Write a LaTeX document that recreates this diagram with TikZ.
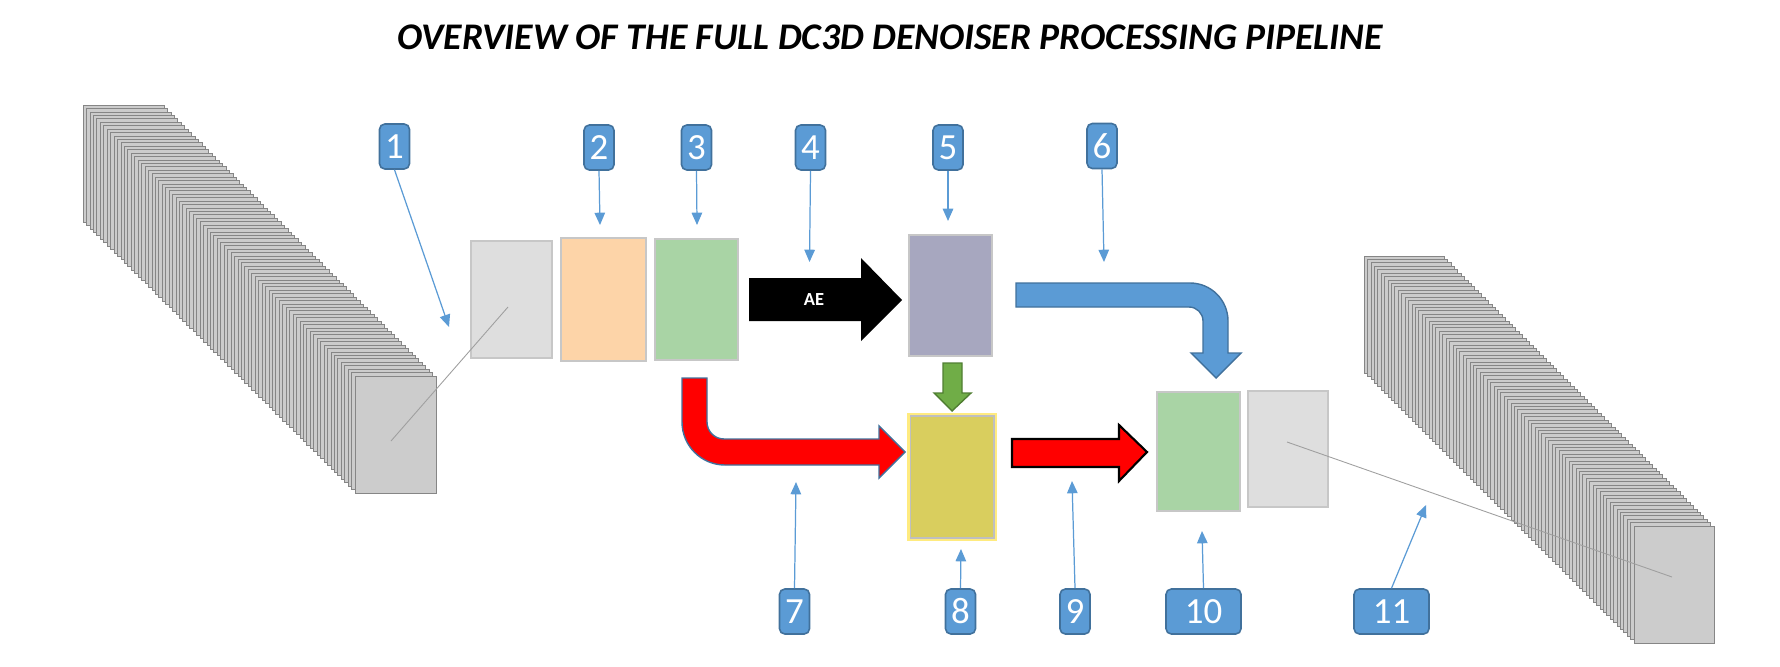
\documentclass[tikz,border=0pt]{standalone}
\usepackage{fontspec}
\setmainfont{Carlito}
\usetikzlibrary{arrows.meta,positioning}
\definecolor{tagblue}{HTML}{5B9BD5}
\definecolor{tagrim}{HTML}{41719C}
\definecolor{boxgray}{HTML}{DEDEDE}
\definecolor{boxorange}{HTML}{FDD4A8}
\definecolor{boxgreen}{HTML}{A9D4A5}
\definecolor{boxpurple}{HTML}{A7A7BF}
\definecolor{boxyellow}{HTML}{D9CE5E}
\definecolor{yellowrim}{HTML}{FFEB7F}
\definecolor{leafgreen}{HTML}{70AD47}
\definecolor{leafrim}{HTML}{507E32}

\tikzset{
  tag/.style={draw=tagrim, fill=tagblue, line width=0.9pt, rounded corners=3pt,
    text=white, font=\fontsize{21}{21}\selectfont,
    minimum width=0.6cm, minimum height=0.9cm, inner sep=0pt},
  widetag/.style={tag, minimum width=1.5cm},
  pointer/.style={draw=tagblue, line width=0.7pt, -{Triangle[width=6pt,length=7pt]}},
  panel/.style={draw=black!22, line width=0.8pt, inner sep=0pt},
  slice/.style={draw=gray!95, fill=gray!40, line width=0.4pt},
  guide/.style={draw=gray!75, line width=0.5pt},
}

\begin{document}
\begin{tikzpicture}[x=0.02cm, y=-0.02cm]
  \useasboundingbox (0,0) rectangle (1780,666);

  % заголовок
  \node[font=\fontsize{21.4}{26}\selectfont\bfseries\itshape] (title) at (890,37)
    {OVERVIEW OF THE FULL DC3D DENOISER PROCESSING PIPELINE};

  % левая стопка кадров
  \foreach \i in {0,...,79}
    \draw[slice] ({83+\i*3.443},{105+\i*3.430}) rectangle +(81,117);
  \coordinate (stackL) at (391,441);

  % правая стопка кадров
  \foreach \i in {0,...,79}
    \draw[slice] ({1364+\i*3.418},{256+\i*3.418}) rectangle +(80,117);
  \coordinate (stackR) at (1672,577);

  % блоки
  \node[panel, fill=boxgray, minimum width=1.62cm, minimum height=2.34cm] (inframe) at (511.5,299.5) {};
  \node[panel, fill=boxorange, minimum width=1.7cm, minimum height=2.46cm] (norm) at (603.5,299.5) {};
  \node[panel, fill=boxgreen, minimum width=1.66cm, minimum height=2.42cm] (prep) at (696.5,299.5) {};
  \node[panel, fill=boxpurple, minimum width=1.66cm, minimum height=2.42cm] (latent) at (950.5,295.5) {};
  \node[draw=yellowrim, fill=boxyellow, line width=1.7pt, inner sep=0pt,
    minimum width=1.74cm, minimum height=2.5cm] (merge) at (952,477) {};
  \draw[black!25, line width=0.6pt] ([shift={(3,3)}]merge.north west) rectangle ([shift={(-3,-3)}]merge.south east);
  \node[panel, fill=boxgreen, minimum width=1.66cm, minimum height=2.38cm] (post) at (1198.5,451.5) {};
  \node[panel, fill=boxgray, minimum width=1.6cm, minimum height=2.32cm] (outframe) at (1288,449) {};

  % стрелка AE
  \fill[black] (749,278) -- (861,278) -- (861,258) -- (902,300) -- (861,341)
    -- (861,321) -- (749,321) -- cycle;
  \node[text=white, font=\bfseries\fontsize{10.5}{12}\selectfont] (ae) at (814,300) {AE};

  % красная изогнутая стрелка
  \draw[fill=red, draw=tagrim, line width=0.8pt] (682,378) -- (707,378) -- (707,422)
    arc[start angle=180, end angle=90, radius=17] -- (879,439) -- (879,426)
    -- (905,452) -- (879,478) -- (879,465) -- (725,465)
    arc[start angle=90, end angle=180, radius=43] -- cycle;

  % синяя изогнутая стрелка
  \draw[fill=tagblue, draw=tagrim, line width=0.8pt] (1016,283) -- (1190,283)
    arc[start angle=270, end angle=360, radius=38] -- (1228,353) -- (1241,353)
    -- (1216,378) -- (1191,353) -- (1203,353) -- (1203,321)
    arc[start angle=0, end angle=-90, radius=14] -- (1016,307) -- cycle;

  % зелёная стрелка вниз
  \draw[fill=leafgreen, draw=leafrim, line width=0.8pt] (943,363) -- (962,363) -- (962,393)
    -- (971,393) -- (952,411) -- (934,393) -- (943,393) -- cycle;

  % красная прямая стрелка
  \draw[fill=red, draw=black, line width=1.2pt] (1012,439) -- (1119,439) -- (1119,425)
    -- (1147,452) -- (1119,481) -- (1119,467) -- (1012,467) -- cycle;

  % линии к стопкам
  \coordinate (inmid) at (508,307);
  \coordinate (outmid) at (1287,442);
  \draw[guide] (stackL) -- (inmid);
  \draw[guide] (outmid) -- (stackR);

  % номера
  \node[tag] (t1) at (394.5,146.5) {1};
  \node[tag] (t2) at (599,147.5) {2};
  \node[tag] (t3) at (696.5,147.5) {3};
  \node[tag] (t4) at (810.5,147.5) {4};
  \node[tag] (t5) at (948,147.5) {5};
  \node[tag] (t6) at (1102,146) {6};
  \node[tag] (t7) at (794.5,611.5) {7};
  \node[tag] (t8) at (960.5,611.5) {8};
  \node[tag] (t9) at (1075,611.5) {9};
  \node[widetag] (t10) at (1203.5,611.5) {10};
  \node[widetag] (t11) at (1391.5,611.5) {11};

  % указатели
  \coordinate (p1) at (449,327);
  \coordinate (p2) at (600,225);
  \coordinate (p3) at (697,225);
  \coordinate (p4) at (809.5,262);
  \coordinate (p5) at (948,221);
  \coordinate (p6) at (1104,262);
  \coordinate (p7) at (796,482);
  \coordinate (p8) at (961,549);
  \coordinate (p9) at (1072,481);
  \coordinate (p10) at (1202,531);
  \coordinate (p11) at (1426,505);
  \draw[pointer] (t1.south) -- (p1);
  \foreach \n in {2,...,6}
    \draw[pointer] (t\n.south) -- (p\n);
  \draw[pointer] (t7.north) -- (p7);
  \draw[pointer] (t8.north) -- (p8);
  \draw[pointer] (t9.north) -- (p9);
  \draw[pointer] (t10.north) -- (p10);
  \draw[pointer] (t11.north) -- (p11);
\end{tikzpicture}
\end{document}
